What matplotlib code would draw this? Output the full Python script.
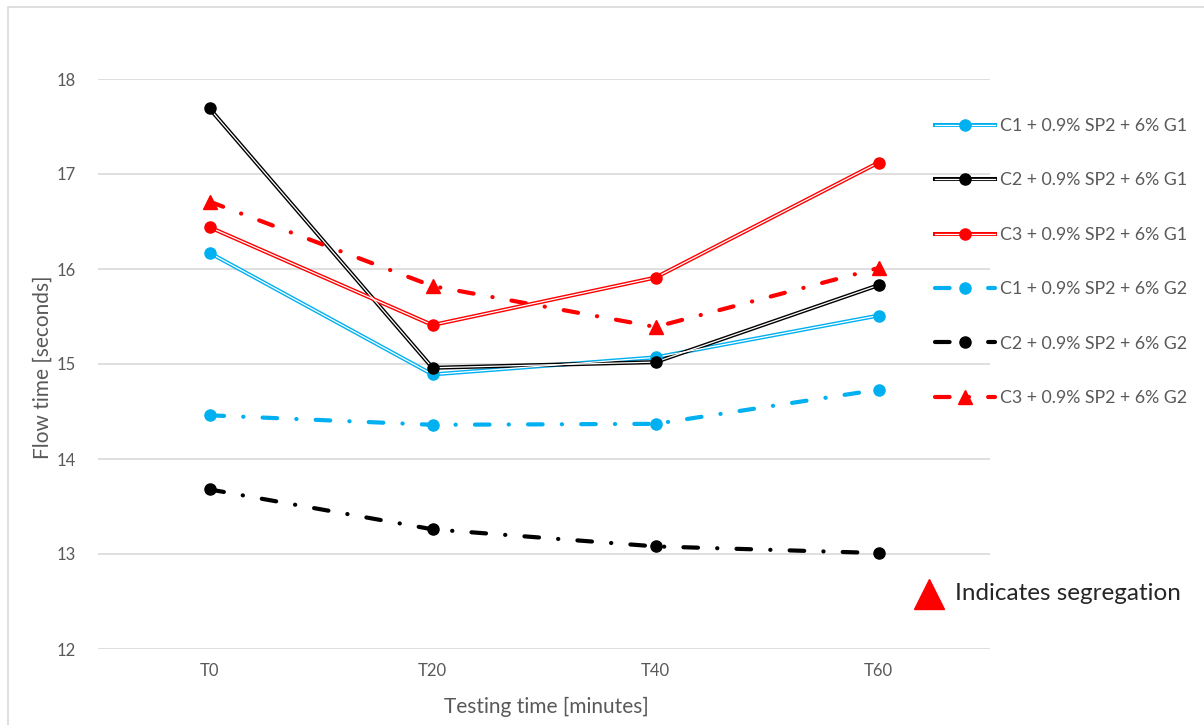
import matplotlib
matplotlib.use("Agg")
import matplotlib.pyplot as plt
from matplotlib.lines import Line2D
from matplotlib.patches import Rectangle
from matplotlib.legend_handler import HandlerTuple

plt.rcParams['font.family'] = ['Lato', 'DejaVu Sans']

times = ["T0", "T20", "T40", "T60"]

c1_g1 = [16.17, 14.89, 15.07, 15.51]
c2_g1 = [17.69, 14.96, 15.02, 15.83]
c3_g1 = [16.44, 15.41, 15.91, 17.12]
c1_g2 = [14.46, 14.36, 14.37, 14.73]
c2_g2 = [13.68, 13.26, 13.08, 13.01]
c3_g2 = [16.71, 15.82, 15.39, 16.01]

labels = [
    "C1 + 0.9% SP2 + 6% G1",
    "C2 + 0.9% SP2 + 6% G1",
    "C3 + 0.9% SP2 + 6% G1",
    "C1 + 0.9% SP2 + 6% G2",
    "C2 + 0.9% SP2 + 6% G2",
    "C3 + 0.9% SP2 + 6% G2",
]

BLUE = "#00b0f0"
BLACK = "#000000"
RED = "#ff0000"
GREY_TXT = "#595959"
GRID = "#d9d9d9"

W, H = 1204, 725
fig = plt.figure(figsize=(W / 100, H / 100), dpi=100)
ax = fig.add_axes([98 / W, 1 - 649 / H, (990 - 98) / W, (649 - 79) / H])

# outer chart border
fig.add_artist(Rectangle((8 / W, -0.1), 1.2, 1 - 7 / H + 0.1,
                         transform=fig.transFigure, fill=False,
                         edgecolor=GRID, linewidth=1.2))

x = list(range(len(times)))

OUTER_LW = 2.9
INNER_LW = 0.9
MS = 8


def double_line(values, color):
    outer, = ax.plot(x, values, color=color, lw=OUTER_LW,
                     solid_joinstyle='miter', zorder=3)
    inner, = ax.plot(x, values, color='white', lw=INNER_LW, zorder=4)
    mk, = ax.plot(x, values, ls='none', marker='o', ms=MS, color=color,
                  zorder=5)
    return (outer, inner, mk)


DASH = (0, (3.5, 4.6, 0.05, 4.6))


def dash_dot_line(values, color, marker, ms):
    ln, = ax.plot(x, values, color=color, lw=3.0, linestyle=DASH,
                  dash_capstyle='round', zorder=3)
    mk, = ax.plot(x, values, ls='none', marker=marker, ms=ms, color=color,
                  zorder=5)
    return (ln, mk)


handles = [
    double_line(c1_g1, BLUE),
    double_line(c2_g1, BLACK),
    double_line(c3_g1, RED),
    dash_dot_line(c1_g2, BLUE, 'o', MS),
    dash_dot_line(c2_g2, BLACK, 'o', MS),
    dash_dot_line(c3_g2, RED, '^', 10),
]

ax.set_xlim(-0.5, 3.5)
ax.set_ylim(12, 18)
ax.set_xticks(x)
ax.set_xticklabels(times)
ax.set_yticks(range(12, 19))
ax.tick_params(length=0, labelsize=12, labelcolor=GREY_TXT)
ax.tick_params(axis='y', pad=16)
ax.tick_params(axis='x', pad=10)
for s in ax.spines.values():
    s.set_visible(False)
ax.grid(axis='y', color=GRID, lw=1.2, zorder=0)
ax.set_axisbelow(True)

fig.text(43 / W, 1 - 367 / H, "Flow time [seconds]", rotation=90,
         ha='center', va='center', fontsize=15, color=GREY_TXT)
fig.text(546 / W, 1 - 707 / H, "Testing time [minutes]",
         ha='center', va='center', fontsize=15, color=GREY_TXT)

fig.legend(handles, labels, loc='upper left',
           bbox_to_anchor=(935 / W, 1 - 118 / H),
           frameon=False, fontsize=12.8, labelcolor=GREY_TXT,
           handler_map={tuple: HandlerTuple(ndivide=1)},
           handlelength=3.4, handletextpad=0.28, labelspacing=2.16,
           borderaxespad=0, borderpad=0)

# segregation note
fig.add_artist(Line2D([929 / W], [1 - 594 / H], marker='^', ms=22,
                      color=RED, ls='none', transform=fig.transFigure))
fig.text(955 / W, 1 - 593 / H, "Indicates segregation", ha='left',
         va='center', fontsize=17.5, color="#262626")

fig.savefig("out.png", dpi=100)
